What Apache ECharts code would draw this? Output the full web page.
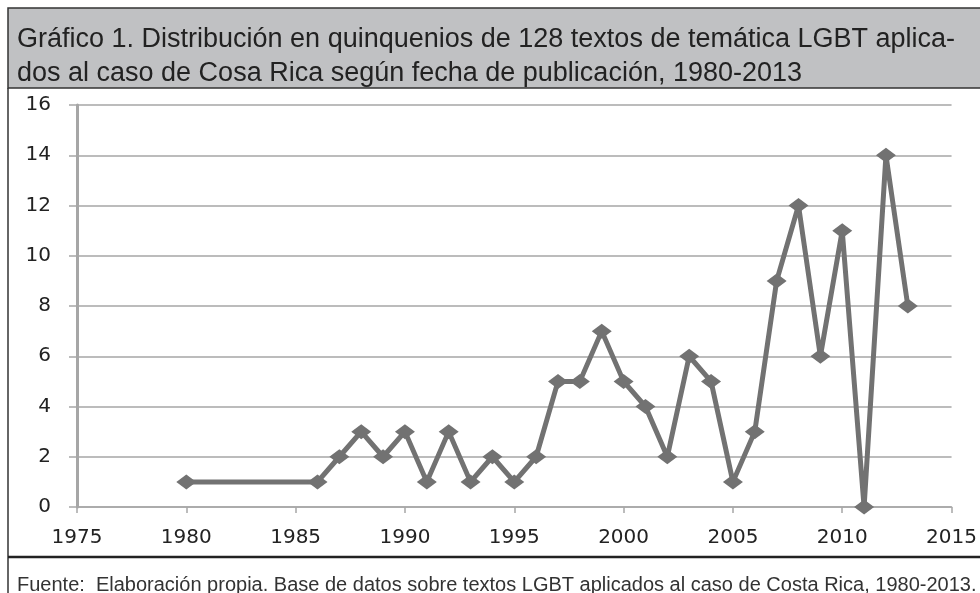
<!DOCTYPE html>
<html>
<head>
<meta charset="utf-8">
<script src="https://cdn.jsdelivr.net/npm/echarts@6/dist/echarts.min.js"></script>
<style>
  html, body { margin: 0; padding: 0; background: #fff; }
  #main { width: 980px; height: 593px; }
</style>
</head>
<body>
<div id="main"></div>
<script>
// años con publicaciones y número de textos
let years = [1980, 1986, 1987, 1988, 1989, 1990, 1991, 1992, 1993, 1994, 1995, 1996, 1997, 1998, 1999,
  2000, 2001, 2002, 2003, 2004, 2005, 2006, 2007, 2008, 2009, 2010, 2011, 2012, 2013]
let counts = [1, 1, 2, 3, 2, 3, 1, 3, 1, 2, 1, 2, 5, 5, 7,
  5, 4, 2, 6, 5, 1, 3, 9, 12, 6, 11, 0, 14, 8]
let yTicks = [0, 2, 4, 6, 8, 10, 12, 14, 16]
let xTicks = [1975, 1980, 1985, 1990, 1995, 2000, 2005, 2010, 2015]

let titleText = 'Gráfico 1. Distribución en quinquenios de 128 textos de temática LGBT aplica-\ndos al caso de Cosa Rica según fecha de publicación, 1980-2013'
let sourceText = 'Fuente:  Elaboración propia. Base de datos sobre textos LGBT aplicados al caso de Costa Rica, 1980-2013.'

let seriesData = years.map(function(y, i) {
  return [y, counts[i]]
})

let chart = echarts.init(document.getElementById('main'), null, { renderer: 'canvas' })

let option = {
  animation: false,
  backgroundColor: '#fff',
  title: [{
    text: titleText,
    left: 12,
    top: 18,
    textStyle: {
      fontFamily: '"Liberation Sans", Arial, sans-serif',
      fontSize: 27,
      fontWeight: 'normal',
      lineHeight: 34,
      color: '#222'
    }
  }, {
    text: sourceText,
    left: 12,
    top: 570,
    textStyle: {
      fontFamily: '"Liberation Sans", Arial, sans-serif',
      fontSize: 20,
      fontWeight: 'normal',
      color: '#333'
    }
  }],
  graphic: [
    {
      type: 'rect',
      z: -1,
      shape: { x: 8, y: 8, width: 990, height: 80 },
      style: { fill: '#c0c1c3', stroke: '#333', lineWidth: 1.5 }
    },
    {
      type: 'line',
      shape: { x1: 8, y1: 88, x2: 8, y2: 600 },
      style: { stroke: '#333', lineWidth: 1.5 }
    },
    {
      type: 'line',
      shape: { x1: 8, y1: 557, x2: 990, y2: 557 },
      style: { stroke: '#222', lineWidth: 2.5 }
    }
  ],
  grid: {
    left: 77,
    right: 25,
    top: 105,
    bottom: 86
  },
  xAxis: {
    type: 'value',
    min: xTicks[0],
    max: xTicks[xTicks.length - 1],
    interval: 5,
    axisLine: { show: true, onZero: false, lineStyle: { color: '#a6a6a6', width: 1.5 } },
    axisTick: { show: true, length: 6, lineStyle: { color: '#a6a6a6', width: 1.5 } },
    splitLine: { show: false },
    axisLabel: {
      margin: 21,
      fontFamily: '"DejaVu Sans", Verdana, sans-serif',
      fontSize: 20,
      color: '#222',
      formatter: function(v) { return String(v) }
    }
  },
  yAxis: {
    type: 'value',
    min: yTicks[0],
    max: yTicks[yTicks.length - 1],
    interval: 2,
    axisLine: { show: true, lineStyle: { color: '#a6a6a6', width: 3 } },
    axisTick: { show: true, length: 8, lineStyle: { color: '#a6a6a6', width: 1.5 } },
    splitLine: { show: true, lineStyle: { color: '#a6a6a6', width: 1.5 } },
    axisLabel: {
      margin: 26,
      fontFamily: '"DejaVu Sans", Verdana, sans-serif',
      fontSize: 20,
      color: '#222'
    }
  },
  series: [{
    type: 'line',
    data: seriesData,
    symbol: 'diamond',
    symbolSize: [20, 15],
    showAllSymbol: true,
    lineStyle: { color: '#727272', width: 5 },
    itemStyle: { color: '#727272' },
    z: 3
  }]
}

chart.setOption(option)
</script>
</body>
</html>
